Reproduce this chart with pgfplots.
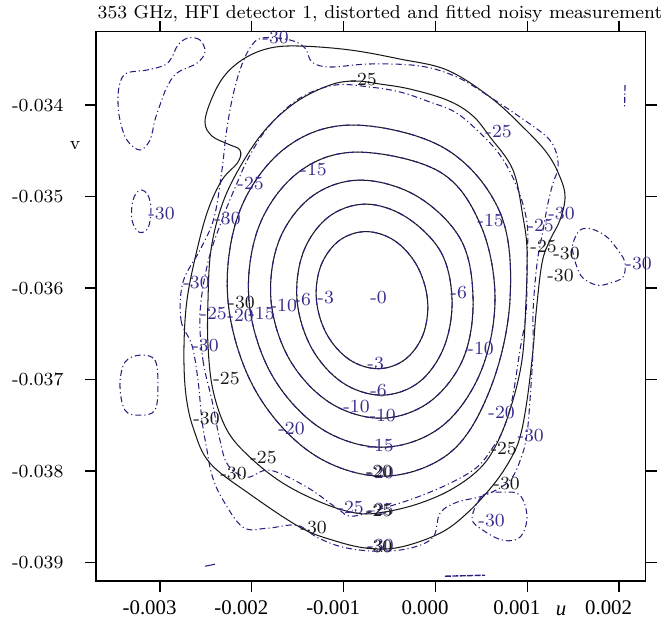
\documentclass[border=0pt]{standalone}
\usepackage{pgfplots}
\usepackage{pgfplotstable}
\pgfplotsset{compat=1.18}
\usepackage{fontspec}
\newfontfamily\timesfont{Liberation Serif}
\definecolor{dblue}{RGB}{40,30,125}
\definecolor{lblue}{RGB}{55,45,140}
\definecolor{cblack}{RGB}{25,25,25}
\tikzset{
  fitc/.style={cblack, line width=0.45pt, smooth cycle, tension=0.6},
  meas/.style={dblue, line width=0.45pt, smooth cycle, tension=0.6,
     dash pattern=on 2.6pt off 1.3pt on 0.5pt off 1.3pt},
  lab/.style={font=\fontsize{8}{9}\selectfont, inner sep=0pt, anchor=west, text=lblue},
  blab/.style={font=\fontsize{8}{9}\selectfont, inner sep=0pt, anchor=west, text=cblack},
}

\pgfplotstableread{
x y
-0.086 -36.132
-0.200 -35.757
-0.444 -35.483
-0.756 -35.383
-1.050 -35.483
-1.248 -35.757
-1.296 -36.132
-1.182 -36.507
-0.938 -36.781
-0.626 -36.881
-0.332 -36.781
-0.134 -36.507
}\cthree
\pgfplotstableread{
x y
0.181 -36.132
0.060 -35.607
-0.320 -35.224
-0.761 -35.083
-1.166 -35.224
-1.439 -35.607
-1.507 -36.132
-1.351 -36.651
-1.016 -37.031
-0.587 -37.170
-0.182 -37.031
0.091 -36.651
}\csix
\pgfplotstableread{
x y
0.410 -36.132
0.279 -35.476
-0.200 -34.997
-0.816 -34.821
-1.343 -34.997
-1.701 -35.476
-1.791 -36.132
-1.591 -36.777
-1.155 -37.249
-0.598 -37.422
-0.071 -37.249
0.300 -36.777
}\cten
\pgfplotstableread{
x y
0.649 -36.132
0.497 -35.323
0.050 -34.732
-0.849 -34.515
-1.488 -34.732
-1.921 -35.323
-2.031 -36.132
-1.789 -36.936
-1.262 -37.524
-0.587 -37.739
0.052 -37.524
0.485 -36.936
}\cfifteen
\pgfplotstableread{
x y
0.812 -36.132
0.704 -35.175
0.104 -34.475
-0.903 -34.219
-1.641 -34.475
-2.138 -35.175
-2.260 -36.132
-1.974 -37.094
-1.359 -37.797
-0.577 -38.055
0.161 -37.797
0.600 -37.094
}\ctwenty
\pgfplotstableread{
x y
-2.477 -36.132
-2.445 -35.585
-2.325 -35.093
-2.129 -34.678
-1.856 -34.274
-1.519 -33.968
-1.148 -33.782
-0.876 -33.738
-0.604 -33.771
-0.277 -33.826
0.126 -33.946
0.398 -34.110
0.595 -34.350
0.845 -34.711
0.954 -35.225
0.998 -35.585
0.987 -36.132
0.943 -36.787
0.812 -37.334
0.649 -37.738
0.464 -37.990
0.159 -38.208
-0.201 -38.361
-0.571 -38.449
-0.854 -38.460
-1.225 -38.350
-1.660 -38.132
-2.020 -37.848
-2.270 -37.552
-2.423 -37.115
-2.477 -36.624
}\sttf
\pgfplotstableread{
x y
-2.706 -36.132
-2.739 -36.678
-2.717 -37.170
-2.630 -37.552
-2.455 -37.913
-2.020 -38.252
-1.475 -38.613
-1.116 -38.755
-0.745 -38.842
-0.386 -38.831
0.050 -38.678
0.344 -38.460
0.627 -38.154
0.812 -37.880
0.921 -37.629
0.998 -37.225
1.063 -36.678
1.096 -36.274
1.161 -35.727
1.248 -35.476
1.357 -35.257
1.412 -35.006
1.357 -34.787
1.215 -34.525
0.954 -34.241
0.595 -33.913
0.126 -33.618
-0.386 -33.498
-0.930 -33.399
-1.475 -33.356
-1.802 -33.378
-2.074 -33.487
-2.292 -33.673
-2.434 -33.924
-2.510 -34.186
-2.434 -34.339
-2.259 -34.427
-2.129 -34.492
-2.150 -34.623
-2.325 -34.820
-2.477 -35.148
-2.597 -35.585
}\stthirty
\pgfplotstableread{
x y
-2.564 -36.274
-2.532 -36.787
-2.434 -37.225
-2.347 -37.662
-2.259 -37.935
-2.052 -38.066
-1.802 -37.990
-1.399 -38.175
-1.072 -38.405
-0.909 -38.492
-0.571 -38.405
-0.201 -38.285
0.159 -38.132
0.453 -37.957
0.627 -37.738
0.736 -37.552
0.834 -37.225
0.921 -36.678
0.987 -36.274
0.998 -35.727
0.998 -35.290
0.889 -34.897
0.704 -34.547
0.453 -34.274
0.213 -34.077
-0.059 -33.968
-0.386 -33.858
-0.713 -33.804
-1.094 -33.782
-1.475 -33.924
-1.802 -34.219
-2.020 -34.547
-2.161 -34.853
-2.325 -35.257
-2.477 -35.716
}\mtf
\pgfplotstableread{
x y
-2.750 -35.935
-2.771 -36.350
-2.652 -36.624
-2.586 -37.006
-2.543 -37.443
-2.488 -37.771
-2.434 -38.044
-2.325 -38.296
-2.096 -38.613
-1.835 -38.624
-1.508 -38.591
-1.290 -38.722
-1.007 -38.831
-0.636 -38.875
-0.277 -38.842
-0.026 -38.722
0.050 -38.460
0.235 -38.339
0.540 -38.263
0.812 -38.099
0.943 -37.826
0.998 -37.585
1.030 -37.225
1.063 -36.678
1.063 -36.274
1.085 -35.946
1.117 -35.662
1.172 -35.367
1.226 -35.072
1.281 -34.853
1.335 -34.689
1.314 -34.514
1.215 -34.350
0.921 -34.132
0.595 -33.913
0.235 -33.695
-0.168 -33.574
-0.713 -33.552
-1.148 -33.585
-1.344 -33.531
-1.421 -33.378
-1.584 -33.290
-1.889 -33.268
-2.020 -33.378
-2.129 -33.618
-2.216 -33.946
-2.281 -34.328
-2.325 -34.711
-2.412 -35.236
-2.564 -35.585
}\mthirty
\pgfplotstableread{
x y
-2.510 -33.421
-2.564 -33.290
-2.695 -33.268
-2.804 -33.345
-2.869 -33.476
-2.946 -33.563
-3.142 -33.618
-3.360 -33.651
-3.436 -33.760
-3.458 -33.946
-3.436 -34.164
-3.360 -34.383
-3.218 -34.492
-3.109 -34.383
-3.055 -34.164
-3.000 -34.000
-2.924 -33.804
-2.815 -33.651
-2.597 -33.542
}\islA
\pgfplotstableread{
x y
-3.218 -34.930
-3.131 -34.984
-3.098 -35.148
-3.131 -35.345
-3.229 -35.389
-3.305 -35.257
-3.294 -35.039
}\islB
\pgfplotstableread{
x y
-3.218 -36.733
-3.055 -36.787
-3.022 -37.061
-3.055 -37.334
-3.218 -37.389
-3.381 -37.334
-3.436 -37.061
-3.381 -36.809
}\islC
\pgfplotstableread{
x y
1.499 -35.509
1.575 -35.367
1.706 -35.356
1.869 -35.443
2.011 -35.618
2.065 -35.727
2.043 -35.880
1.902 -35.946
1.760 -35.968
1.608 -35.891
1.542 -35.771
1.499 -35.618
}\islD
\pgfplotstableread{
x y
0.399 -38.514
0.518 -38.263
0.736 -38.230
0.921 -38.263
0.998 -38.503
0.921 -38.722
0.736 -38.755
0.518 -38.645
}\islE

\begin{document}
\begin{tikzpicture}
\begin{axis}[
  scale only axis, width=237.5pt, height=237.3pt,
  xmin=-3.697, xmax=2.291, ymin=-39.2, ymax=-33.199,
  xtick={-3,-2,-1,0,1,2},
  xticklabels={-0.003,-0.002,-0.001,0.000,0.001,0.002},
  ytick={-39,-38,-37,-36,-35,-34},
  yticklabels={-0.039,-0.038,-0.037,-0.036,-0.035,-0.034},
  tick align=outside, major tick length=4.75pt,
  every tick/.style={line width=0.6pt, black},
  axis line style={line width=0.45pt},
  xticklabel style={font=\timesfont\fontsize{9}{10}\selectfont, xshift=-4.5pt},
  yticklabel style={font=\fontsize{8}{9}\selectfont, xshift=-5.8pt},
  clip=false,
]
\addplot[fitc] table {\cthree};
\addplot[fitc] table {\csix};
\addplot[fitc] table {\cten};
\addplot[fitc] table {\cfifteen};
\addplot[fitc] table {\ctwenty};
\addplot[fitc] table {\sttf};
\addplot[fitc] table {\stthirty};
\addplot[meas] table {\cthree};
\addplot[meas] table {\csix};
\addplot[meas] table {\cten};
\addplot[meas] table {\cfifteen};
\addplot[meas] table {\ctwenty};
\addplot[meas] table {\mtf};
\addplot[meas] table {\mthirty};
\addplot[meas] table {\islA};
\addplot[meas] table {\islB};
\addplot[meas] table {\islC};
\addplot[meas] table {\islD};
\addplot[meas] table {\islE};
\addplot[dblue, line width=0.5pt, dash pattern=on 2.6pt off 1.0pt on 0.5pt off 1.0pt] coordinates {(2.065,-33.782) (2.060,-34.033)};
\addplot[dblue, line width=0.45pt] coordinates {(-2.510,-39.039) (-2.401,-39.017)};
\addplot[dblue, line width=0.6pt, dash pattern=on 2.6pt off 0.6pt] coordinates {(0.104,-39.148) (0.540,-39.137)};
% measured labels
\node[lab] at (axis cs:-1.889,-33.268) {-30};
\node[lab] at (axis cs:0.540,-34.285) {-25};
\node[lab] at (axis cs:-1.475,-34.700) {-15};
\node[lab] at (axis cs:-2.161,-34.853) {-25};
\node[lab] at (axis cs:-2.412,-35.236) {-30};
\node[lab] at (axis cs:-3.131,-35.181) {-30};
\node[lab] at (axis cs:0.453,-35.257) {-15};
\node[lab] at (axis cs:0.998,-35.312) {-25};
\node[lab] at (axis cs:1.226,-35.181) {-30};
\node[lab] at (axis cs:2.065,-35.727) {-30};
\node[lab] at (axis cs:-2.750,-35.935) {-30};
\node[lab] at (axis cs:-2.564,-36.274) {-25};
\node[lab] at (axis cs:-2.270,-36.300) {-20};
\node[lab] at (axis cs:-2.042,-36.274) {-15};
\node[lab] at (axis cs:-1.800,-36.186) {-10};
\node[lab] at (axis cs:-1.540,-36.121) {-6};
\node[lab] at (axis cs:-1.290,-36.099) {-3};
\node[lab] at (axis cs:-0.713,-36.099) {-0};
\node[lab] at (axis cs:0.159,-36.044) {-6};
\node[lab] at (axis cs:-0.745,-36.820) {-3};
\node[lab] at (axis cs:-0.713,-37.115) {-6};
\node[lab] at (axis cs:-1.007,-37.290) {-10};
\node[lab] at (axis cs:-0.723,-37.389) {-10};
\node[lab] at (axis cs:0.344,-36.656) {-10};
\node[lab] at (axis cs:-1.715,-37.531) {-20};
\node[lab] at (axis cs:0.573,-37.356) {-20};
\node[lab] at (axis cs:-0.745,-37.716) {-15};
\node[lab] at (axis cs:0.889,-37.607) {-30};
\node[lab] at (axis cs:-1.072,-38.394) {-25};
\node[lab] at (axis cs:0.464,-38.536) {-30};
\node[lab] at (axis cs:-2.652,-36.624) {-30};
\node[lab] at (axis cs:-0.745,-38.011) {-20};
\node[lab] at (axis cs:-0.745,-38.416) {-25};
\node[lab] at (axis cs:-0.745,-38.809) {-30};
% fitted labels
\node[blab] at (axis cs:-0.930,-33.727) {-25};
\node[blab] at (axis cs:1.030,-35.545) {-25};
\node[blab] at (axis cs:1.280,-35.625) {-30};
\node[blab] at (axis cs:1.215,-35.858) {-30};
\node[blab] at (axis cs:-2.423,-36.984) {-25};
\node[blab] at (axis cs:-2.641,-37.421) {-30};
\node[blab] at (axis cs:-2.347,-38.022) {-30};
\node[blab] at (axis cs:-2.020,-37.848) {-25};
\node[blab] at (axis cs:-1.475,-38.613) {-30};
\node[blab] at (axis cs:0.595,-37.749) {-25};
\node[blab] at (axis cs:0.627,-38.132) {-30};
\node[blab] at (axis cs:-0.760,-38.000) {-20};
\node[blab] at (axis cs:-0.760,-38.430) {-25};
\node[blab] at (axis cs:-0.760,-38.820) {-30};
\node[blab] at (axis cs:-2.259,-36.160) {-30};
% axis texts
\node[font=\fontsize{8}{9}\selectfont, anchor=base, inner sep=0pt] at (axis cs:-0.604,-33.050) {353 GHz, HFI detector 1, distorted and fitted noisy measurement};
\node[font=\fontsize{8}{9}\selectfont, inner sep=0pt] at (axis cs:-3.926,-34.449) {v};
\node[font=\timesfont\itshape\fontsize{9}{10}\selectfont, anchor=base, inner sep=0pt] at (axis cs:1.368,-39.574) {u};
\end{axis}
\path (current axis.south west) ++(-41.47pt,-17.71pt) rectangle ++(289.44pt,268.7pt);
\end{tikzpicture}
\end{document}
